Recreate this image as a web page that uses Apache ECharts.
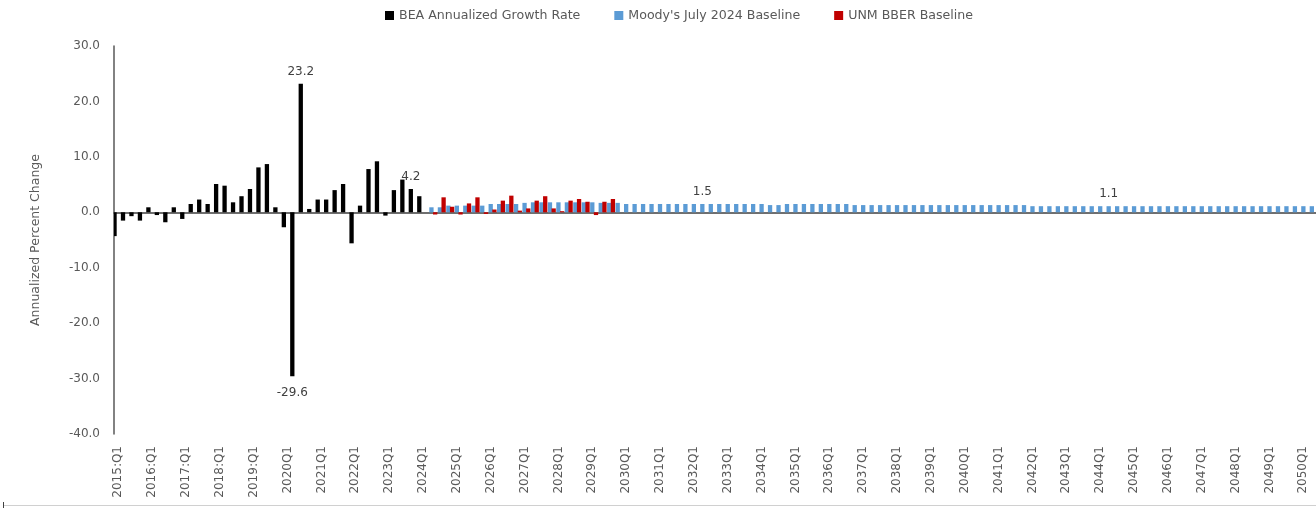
<!DOCTYPE html>
<html>
<head>
<meta charset="utf-8">
<script src="https://cdn.jsdelivr.net/npm/echarts@6/dist/echarts.min.js"></script>
<style>
html,body{margin:0;padding:0;background:#fff;}
#chart{width:1316px;height:508px;}
</style>
</head>
<body>
<div id="chart"></div>
<script>
// Quarterly categories 2015Q1 .. 2050Q4 (2015-2019 written as "YYYY:Qn")
const years = [];
for (let y = 2015; y <= 2050; y++) years.push(y);
const categories = [];
years.forEach(y => { for (let q = 1; q <= 4; q++) categories.push(y < 2020 ? y + ':Q' + q : y + 'Q' + q); });

// BEA Annualized Growth Rate, 2015Q1 .. 2024Q1
const beaValues = [
  -4.3, -1.5, -0.7, -1.5,
   0.9, -0.5, -1.8,  0.9,
  -1.2,  1.5,  2.3,  1.5,
   5.1,  4.8,  1.8,  2.9,
   4.2,  8.1,  8.7,  0.9,
  -2.7, -29.6, 23.2, 0.6,
   2.3,  2.3,  4.0,  5.1,
  -5.6,  1.2,  7.8,  9.2,
  -0.6,  4.0,  5.9,  4.2,
   2.9
];
const beaStart = '2015:Q1';

// Moody's July 2024 Baseline, 2024Q2 .. 2050Q4
const moodysValues = [
  0.9, 0.9, 1.2,
  1.2, 1.2, 1.2, 1.2,
  1.5, 1.5, 1.5, 1.5,
  1.7, 1.8, 1.8, 1.8,
  1.8, 1.8, 1.8, 1.8,
  1.8, 1.7, 1.7, 1.7,
  1.5, 1.5, 1.5, 1.5,
  1.5, 1.5, 1.5, 1.5,
  1.5, 1.5, 1.5, 1.5,
  1.5, 1.5, 1.5, 1.5,
  1.5, 1.3, 1.3, 1.5,
  1.5, 1.5, 1.5, 1.5,
  1.5, 1.5, 1.5, 1.3,
  1.3, 1.3, 1.3, 1.3,
  1.3, 1.3, 1.3, 1.3,
  1.3, 1.3, 1.3, 1.3,
  1.3, 1.3, 1.3, 1.3,
  1.3, 1.3, 1.3, 1.3,
  1.1, 1.1, 1.1, 1.1,
  1.1, 1.1, 1.1, 1.1,
  1.1, 1.1, 1.1, 1.1,
  1.1, 1.1, 1.1, 1.1,
  1.1, 1.1, 1.1, 1.1,
  1.1, 1.1, 1.1, 1.1,
  1.1, 1.1, 1.1, 1.1,
  1.1, 1.1, 1.1, 1.1,
  1.1, 1.1, 1.1, 1.1
];
const moodysStart = '2024Q2';

// UNM BBER Baseline, 2024Q2 .. 2029Q3
const unmValues = [
  -0.4, 2.7, 1.0,
  -0.4, 1.6, 2.7, -0.3,
   0.5, 2.1, 3.0, 0.3,
   0.7, 2.1, 2.9, 0.7,
   0.2, 2.1, 2.4, 1.9,
  -0.5, 1.9, 2.4
];
const unmStart = '2024Q2';

// Data labels shown on the chart
const beaLabelled = { '2020Q2': 'bottom', '2020Q3': 'top', '2023Q4': 'top' };
const moodysLabelled = { '2032Q2': 'top', '2044Q2': 'top' };

// y-axis ticks
const yMin = -40, yMax = 30, yStep = 10;

function buildSeriesData(values, start, labelled) {
  const off = categories.indexOf(start);
  return categories.map((c, i) => {
    const k = i - off;
    if (k < 0 || k >= values.length) return null;
    const v = values[k];
    if (labelled && labelled[c]) {
      const pos = labelled[c];
      return { value: v, label: { show: true, position: pos, offset: pos === 'bottom' ? [0, 5] : [0, 0] } };
    }
    return v;
  });
}

const FONT = 'DejaVu Sans';
const chart = echarts.init(document.getElementById('chart'), null, { renderer: 'canvas' });
const barCommon = {
  type: 'bar',
  xAxisIndex: 0,
  barWidth: 4.3,
  barGap: '-14%',
  label: {
    show: false,
    distance: 6,
    color: '#404040',
    fontFamily: FONT,
    fontSize: 12,
    formatter: p => Number(p.value).toFixed(1)
  },
  emphasis: { disabled: true }
};

chart.setOption({
  animation: false,
  backgroundColor: '#ffffff',
  textStyle: { fontFamily: FONT },
  legend: {
    left: 380,
    top: 4,
    itemWidth: 9,
    itemHeight: 9,
    itemGap: 34,
    icon: 'rect',
    textStyle: { color: '#595959', fontSize: 12.6, fontFamily: FONT },
    data: ['BEA Annualized Growth Rate', "Moody's July 2024 Baseline", 'UNM BBER Baseline']
  },
  grid: { left: 114, width: 1219, top: 46, height: 388, containLabel: false, outerBoundsMode: 'none' },
  xAxis: [
    {
      type: 'category',
      data: categories,
      position: 'bottom',
      axisLine: { show: false, onZero: false },
      axisTick: { show: false },
      axisLabel: {
        interval: 3,
        rotate: 90,
        margin: 12,
        color: '#595959',
        fontSize: 12,
        fontFamily: FONT
      },
      splitLine: { show: false }
    },
    {
      type: 'category',
      data: categories,
      position: 'bottom',
      axisLine: { show: true, onZero: true, lineStyle: { color: '#404040', width: 1.5 } },
      axisTick: { show: false },
      axisLabel: { show: false },
      splitLine: { show: false }
    }
  ],
  yAxis: {
    type: 'value',
    min: yMin,
    max: yMax,
    interval: yStep,
    name: 'Annualized Percent Change',
    nameLocation: 'middle',
    nameGap: 72,
    nameTextStyle: { color: '#595959', fontSize: 12.5, fontFamily: FONT },
    axisLine: { show: true, lineStyle: { color: '#595959', width: 1.5 } },
    axisTick: { show: false },
    splitLine: { show: false },
    axisLabel: {
      margin: 14,
      color: '#595959',
      fontSize: 12,
      fontFamily: FONT,
      formatter: v => v.toFixed(1)
    }
  },
  series: [
    Object.assign({}, barCommon, {
      name: 'BEA Annualized Growth Rate',
      itemStyle: { color: '#000000' },
      data: buildSeriesData(beaValues, beaStart, beaLabelled)
    }),
    Object.assign({}, barCommon, {
      name: "Moody's July 2024 Baseline",
      itemStyle: { color: '#5b9bd5' },
      data: buildSeriesData(moodysValues, moodysStart, moodysLabelled)
    }),
    Object.assign({}, barCommon, {
      name: 'UNM BBER Baseline',
      itemStyle: { color: '#c00000' },
      data: buildSeriesData(unmValues, unmStart, null)
    })
  ],
  graphic: [
    { type: 'line', silent: true, shape: { x1: 4, y1: 505.5, x2: 1316, y2: 505.5 }, style: { stroke: '#d0d0d0', lineWidth: 1 } },
    { type: 'line', silent: true, shape: { x1: 3.5, y1: 502, x2: 3.5, y2: 508 }, style: { stroke: '#404040', lineWidth: 1 } }
  ]
});
</script>
</body>
</html>
